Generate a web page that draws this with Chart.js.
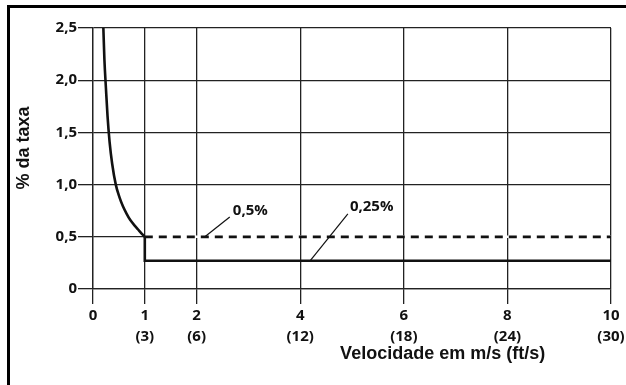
<!DOCTYPE html>
<html>
<head>
<meta charset="utf-8">
<script src="https://cdn.jsdelivr.net/npm/chart.js@4.4.0/dist/chart.umd.min.js"></script>
<style>
  html, body { margin: 0; padding: 0; background: #fff; }
  #frame { position: absolute; left: 7px; top: 5px; width: 619px; height: 380px; border-top: 3px solid #000; border-left: 3px solid #000; box-sizing: border-box; }
  #wrap { position: absolute; left: 0; top: 0; width: 626px; height: 385px; }
</style>
</head>
<body>
<div id="frame"></div>
<div id="wrap"><canvas id="rateChart"></canvas></div>
<script>
// curve (velocity m/s -> % of rate)
const curveX = [0.2, 0.22, 0.25, 0.28, 0.32, 0.37, 0.44, 0.51, 0.58, 0.65, 0.72, 0.8, 0.87, 0.93, 1.0];
const curveY = [2.5, 2.2, 1.92, 1.66, 1.41, 1.2, 1.0, 0.88, 0.79, 0.72, 0.66, 0.61, 0.57, 0.535, 0.5];
const stepX = [1, 1, 10];
const stepY = [0.5, 0.27, 0.27];
const dashX = [1, 10];
const dashY = [0.5, 0.5];

const xTickValues = [0, 1, 2, 4, 6, 8, 10];
const xTickLabels = [['0'], ['1', '(3)'], ['2', '(6)'], ['4', '(12)'], ['6', '(18)'], ['8', '(24)'], ['10', '(30)']];
const yTickValues = [0, 0.5, 1, 1.5, 2, 2.5];
const yTickLabels = ['0', '0,5', '1,0', '1,5', '2,0', '2,5'];

const calloutTexts = ['0,5%', '0,25%'];
const calloutLineX = [[2.16, 2.64], [4.19, 4.92]];
const calloutLineY = [[0.5, 0.69], [0.27, 0.72]];
const calloutTextX = [2.7, 4.96];
const calloutTextY = [0.75, 0.79];

const xTitle = 'Velocidade em m/s (ft/s)';
const yTitle = '% da taxa';

const pts = (xs, ys) => xs.map((x, i) => ({ x: x, y: ys[i] }));

const lineDs = (data, width, extra) => Object.assign({
    data: data,
    borderColor: '#111',
    borderWidth: width,
    pointRadius: 0,
    tension: 0,
    fill: false,
    clip: false
}, extra || {});

const datasets = [
    lineDs(pts(curveX, curveY), 2.6, { cubicInterpolationMode: 'monotone', order: 0 }),
    lineDs(pts(stepX, stepY), 2.6, { order: 0 }),
    lineDs(pts(dashX, dashY), 2.8, { borderDash: [8, 6], order: 1 }),
    // white underlay so the grid line does not show in the dash gaps
    lineDs(pts(dashX, dashY), 2.6, { borderColor: '#fff', order: 2 })
];
calloutLineX.forEach((xs, i) => datasets.push(lineDs(pts(xs, calloutLineY[i]), 1.2, { order: 0 })));

const textPlugin = {
    id: 'texts',
    afterDraw(chart) {
        const ctx = chart.ctx;
        const xs = chart.scales.x, ys = chart.scales.y;
        ctx.save();
        ctx.fillStyle = '#111';
        ctx.font = 'bold 15px "Open Sans"';
        ctx.textBaseline = 'middle';
        ctx.textAlign = 'left';
        calloutTexts.forEach((t, i) => {
            ctx.fillText(t, xs.getPixelForValue(calloutTextX[i]), ys.getPixelForValue(calloutTextY[i]));
        });
        ctx.font = 'bold 18px "Liberation Sans"';
        ctx.textAlign = 'center';
        ctx.fillText(xTitle, xs.getPixelForValue(6.75), chart.chartArea.bottom + 65);
        ctx.translate(24, ys.getPixelForValue(1.35));
        ctx.rotate(-Math.PI / 2);
        ctx.fillText(yTitle, 0, 0);
        ctx.restore();
    }
};

const gridOpts = { color: '#222', lineWidth: 1.3, tickLength: 15, tickColor: '#222' };

new Chart(document.getElementById('rateChart').getContext('2d'), {
    type: 'line',
    data: { datasets: datasets },
    plugins: [textPlugin],
    options: {
        responsive: true,
        maintainAspectRatio: false,
        animation: false,
        layout: { padding: { top: 28, right: 15, left: 0, bottom: 0 } },
        plugins: { legend: { display: false }, tooltip: { enabled: false } },
        scales: {
            x: {
                type: 'linear',
                min: 0,
                max: 10,
                afterBuildTicks: (s) => { s.ticks = xTickValues.map(v => ({ value: v })); },
                afterFit: (s) => { s.height = 96; },
                grid: gridOpts,
                border: { display: true, color: '#222', width: 1.3 },
                ticks: {
                    autoSkip: false,
                    maxRotation: 0,
                    padding: 1,
                    color: '#111',
                    font: { family: '"Open Sans"', size: 15, weight: 'bold', lineHeight: 1.4 },
                    callback: (v, i) => xTickLabels[i]
                }
            },
            y: {
                type: 'linear',
                min: 0,
                max: 2.5,
                afterBuildTicks: (s) => { s.ticks = yTickValues.map(v => ({ value: v })); },
                afterFit: (s) => { s.width = 93; },
                grid: gridOpts,
                border: { display: true, color: '#222', width: 1.3 },
                ticks: {
                    padding: 1,
                    color: '#111',
                    font: { family: '"Open Sans"', size: 15, weight: 'bold' },
                    callback: (v, i) => yTickLabels[i]
                }
            }
        }
    }
});
</script>
</body>
</html>
